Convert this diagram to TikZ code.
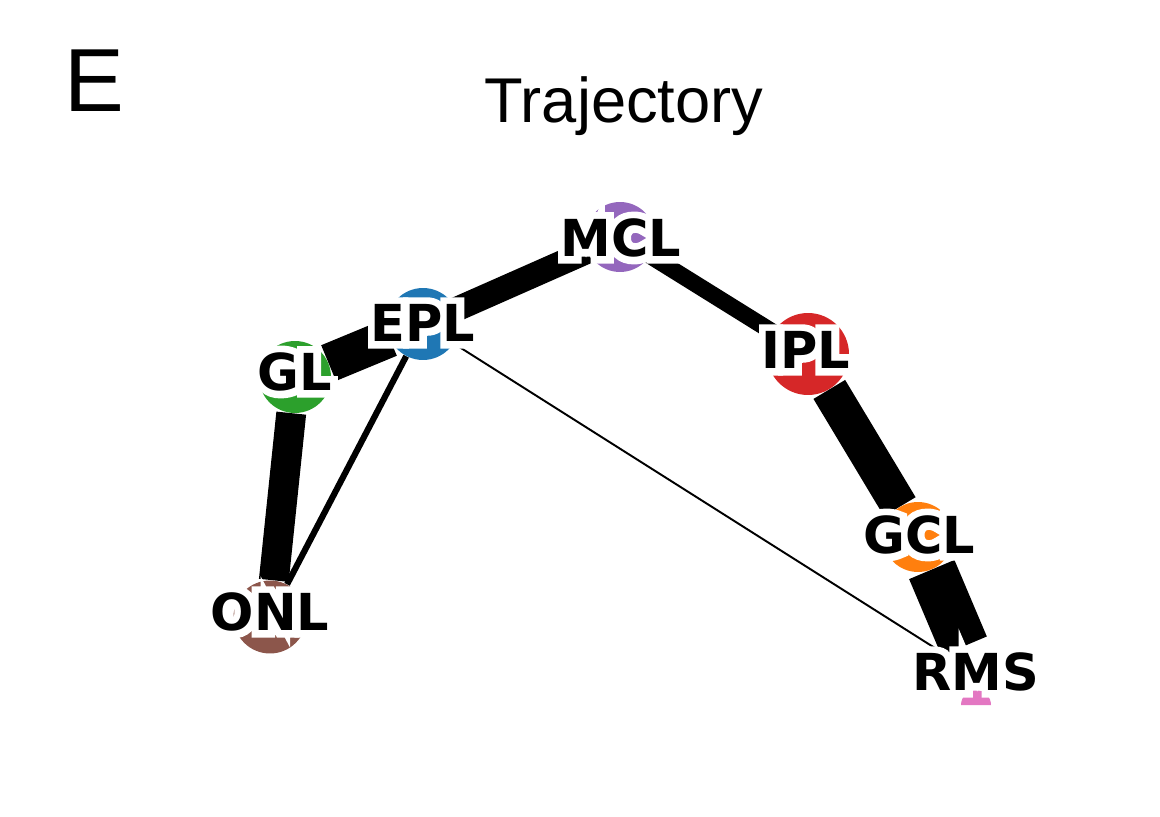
\documentclass[tikz,border=0pt]{standalone}
\usepackage{fontspec}
\setmainfont{Liberation Sans}
\newfontfamily\lblfont{DejaVu Sans Bold}
\newfontfamily\halofont{DejaVu Sans Bold}[FakeBold=28]
\usetikzlibrary{backgrounds}
\definecolor{tabblue}{HTML}{1F77B4}
\definecolor{taborange}{HTML}{FF7F0E}
\definecolor{tabgreen}{HTML}{2CA02C}
\definecolor{tabred}{HTML}{D62728}
\definecolor{tabpurple}{HTML}{9467BD}
\definecolor{tabbrown}{HTML}{8C564B}
\definecolor{tabpink}{HTML}{E377C2}
\begin{document}
\begin{tikzpicture}[x=0.02cm,y=-0.02cm,
  vtx/.style={circle,inner sep=0pt,minimum size=1.44cm,draw=none},
  lbl/.style={font={\lblfont\fontsize{29pt}{30pt}\selectfont},inner sep=0pt,text=black},
  halo/.style={font={\halofont\fontsize{29pt}{30pt}\selectfont},inner sep=0pt,text=white},
  link/.style={line width=#1,line cap=butt,draw=black}]
\useasboundingbox (0,0) rectangle (1160,817);

\node[anchor=base west,inner sep=0pt,font={\fontsize{51pt}{56pt}\selectfont}] (panel) at (64,112) {E};
\node[anchor=base,inner sep=0pt,font={\fontsize{36pt}{40pt}\selectfont}] (title) at (624,123) {Trajectory};

% nodes
\node[vtx,fill=tabgreen] (GL) at (295,377) {};
\node[vtx,fill=tabblue] (EPL) at (423,324) {};
\node[vtx,fill=tabpurple,minimum size=1.4cm] (MCL) at (620,237) {};
\node[vtx,fill=tabred,minimum size=1.64cm] (IPL) at (808,354) {};
\node[vtx,fill=taborange,minimum size=1.4cm] (GCL) at (918,537) {};
\node[vtx,fill=tabbrown,minimum size=1.46cm] (ONL) at (270,617) {};
\node[vtx,minimum size=1.2cm] (RMS) at (976,674) {};
\fill[tabpink] (961,705) arc[start angle=180,end angle=360,radius=15] -- cycle;

% edges
\begin{pgfonlayer}{background}
\draw[link=22pt] (GL) -- (EPL);
\draw[link=14pt] (EPL) -- (MCL);
\draw[link=9.5pt] (MCL) -- (IPL);
\draw[link=21pt] (IPL) -- (GCL);
\draw[link=28pt] (GCL) -- (RMS);
\draw[link=17pt] (GL) -- (ONL);
\draw[link=3.5pt] (EPL) -- (ONL);
\draw[link=1.1pt] (EPL) -- (RMS);
\end{pgfonlayer}

% label halos
\node[halo] (hGL) at (295,372) {GL};
\node[halo] (hEPL) at (423,323) {EPL};
\node[halo] (hMCL) at (621,238) {MCL};
\node[halo] (hIPL) at (806,350) {IPL};
\node[halo] (hGCL) at (919,535) {GCL};
\node[halo] (hRMS) at (976,672) {RMS};
\node[halo] (hONL) at (270,612) {ONL};
% labels
\node[lbl] (tGL) at (295,372) {GL};
\node[lbl] (tEPL) at (423,323) {EPL};
\node[lbl] (tMCL) at (621,238) {MCL};
\node[lbl] (tIPL) at (806,350) {IPL};
\node[lbl] (tGCL) at (919,535) {GCL};
\node[lbl] (tRMS) at (976,672) {RMS};
\node[lbl] (tONL) at (270,612) {ONL};
\end{tikzpicture}
\end{document}
